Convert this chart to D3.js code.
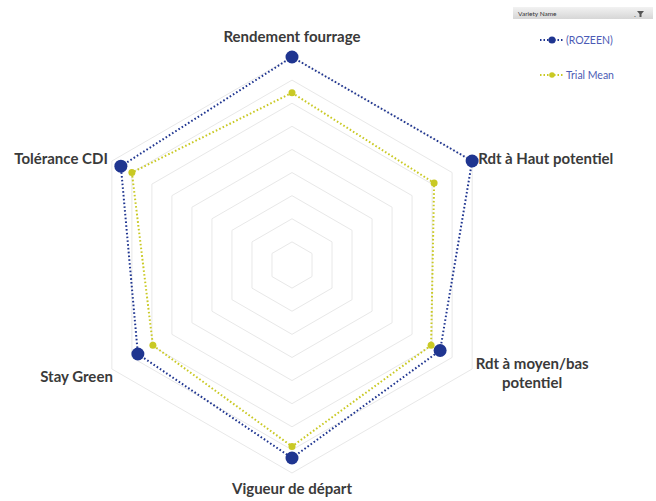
<!doctype html>
<html lang="fr">
<head>
<meta charset="UTF-8">
<title>Radar</title>
<style>
  body { margin: 0; background: #fff; }
  svg { display: block; font-family: Lato, "Open Sans", sans-serif; }
</style>
</head>
<body>
<div class="container"></div>
<script src="https://d3js.org/d3.v7.min.js"></script>
<script>
  const axes = ['Rendement fourrage', 'Rdt à Haut potentiel', 'Rdt à moyen/bas potentiel',
    'Vigueur de départ', 'Stay Green', 'Tolérance CDI'];
  const rozeen = [9.0, 9.0, 7.4, 8.35, 7.7, 8.55];
  const trialMean = [7.45, 7.1, 6.95, 7.85, 6.95, 8.0];
  const rings = [1, 2, 3, 4, 5, 6, 7, 8, 9];
  const seriesNames = ['(ROZEEN)', 'Trial Mean'];

  const W = 656, H = 501;
  const CX = 292, CY = 265, R = 208;
  const BLUE = '#1f3590';
  const YELLOW = '#c9c924';

  const svg = d3.select('.container').append('svg')
    .attr('width', W).attr('height', H);

  const r = d3.scaleLinear().domain([0, 9]).range([0, R]);
  const angle = d3.scaleBand().domain(axes).range([0, 2 * Math.PI]).align(0);

  const pt = (name, v) => {
    const a = angle(name);
    return [CX + r(v) * Math.sin(a), CY - r(v) * Math.cos(a)];
  };

  // grid rings
  const g = svg.append('g');
  g.selectAll('.ring').data(rings).enter().append('polygon')
    .attr('points', d => axes.map(a => pt(a, d).join(',')).join(' '))
    .attr('fill', 'none')
    .attr('stroke', '#e8e8e8')
    .attr('stroke-width', 1);

  // series
  const series = [
    { name: seriesNames[0], values: rozeen, color: BLUE, size: 6.5 },
    { name: seriesNames[1], values: trialMean, color: YELLOW, size: 3.5 }
  ];
  const line = d3.line().curve(d3.curveLinearClosed);

  series.slice().reverse().forEach(s => {
    const pts = axes.map((a, i) => pt(a, s.values[i]));
    g.append('path')
      .attr('d', line(pts))
      .attr('fill', 'none')
      .attr('stroke', s.color)
      .attr('stroke-width', 2)
      .attr('stroke-dasharray', '1.6,2.2');
    g.selectAll(null).data(pts).enter().append('circle')
      .attr('cx', d => d[0]).attr('cy', d => d[1])
      .attr('r', s.size)
      .attr('fill', s.color);
  });

  // axis labels
  const labelG = svg.append('g')
    .attr('font-size', 15)
    .attr('font-weight', 'bold')
    .attr('fill', '#3a3a3a');
  axes.forEach(name => {
    const a = angle(name);
    const s = Math.sin(a), c = Math.cos(a);
    const [x, y] = pt(name, 9);
    let anchor = 'middle', dx = 0, dy = 0;
    if (Math.abs(s) < 0.01) { dy = c > 0 ? -15 : 21; }
    else if (c > 0) { anchor = s > 0 ? 'start' : 'end'; dx = s > 0 ? 6 : -4; dy = 3; }
    else { anchor = s > 0 ? 'middle' : 'end'; dx = s > 0 ? 60 : 1; dy = s > 0 ? 0 : 13; }
    const words = name === 'Rdt à moyen/bas potentiel' ? ['Rdt à moyen/bas', 'potentiel'] : [name];
    const t = labelG.append('text')
      .attr('x', x + dx).attr('y', y + dy)
      .attr('text-anchor', anchor);
    words.forEach((w, i) => {
      t.append('tspan').attr('x', x + dx).attr('dy', i ? 19 : 0).text(w);
    });
  });

  // legend
  const lg = svg.append('g');
  const hdr = svg.append('defs').append('linearGradient')
    .attr('id', 'hdr').attr('x1', 0).attr('x2', 0).attr('y1', 0).attr('y2', 1);
  hdr.append('stop').attr('offset', 0).attr('stop-color', '#f2f2f2');
  hdr.append('stop').attr('offset', 1).attr('stop-color', '#d6d6d6');
  lg.append('rect').attr('x', 513).attr('y', 7).attr('width', 140).attr('height', 12)
    .attr('fill', 'url(#hdr)');
  lg.append('text').attr('x', 518).attr('y', 15.5).attr('font-size', 6.5)
    .attr('fill', '#333').text('Variety Name');
  lg.append('text').attr('x', 634).attr('y', 17).attr('font-size', 8)
    .attr('fill', '#555').text('.');
  lg.append('path').attr('d', 'M637,11 h7 l-2.5,3 v3 h-2 v-3 z').attr('fill', '#555');

  series.forEach((s, i) => {
    const y = 40 + i * 35;
    lg.append('line').attr('x1', 540).attr('x2', 564).attr('y1', y).attr('y2', y)
      .attr('stroke', s.color).attr('stroke-width', 1.8).attr('stroke-dasharray', '1.5,2');
    lg.append('circle').attr('cx', 552).attr('cy', y).attr('r', i ? 2.8 : 3.6).attr('fill', s.color);
    lg.append('text').attr('x', 566).attr('y', y + 3.5).attr('font-size', 10.5)
      .attr('fill', '#4c5bb5').text(s.name);
  });
</script>
</body>
</html>
